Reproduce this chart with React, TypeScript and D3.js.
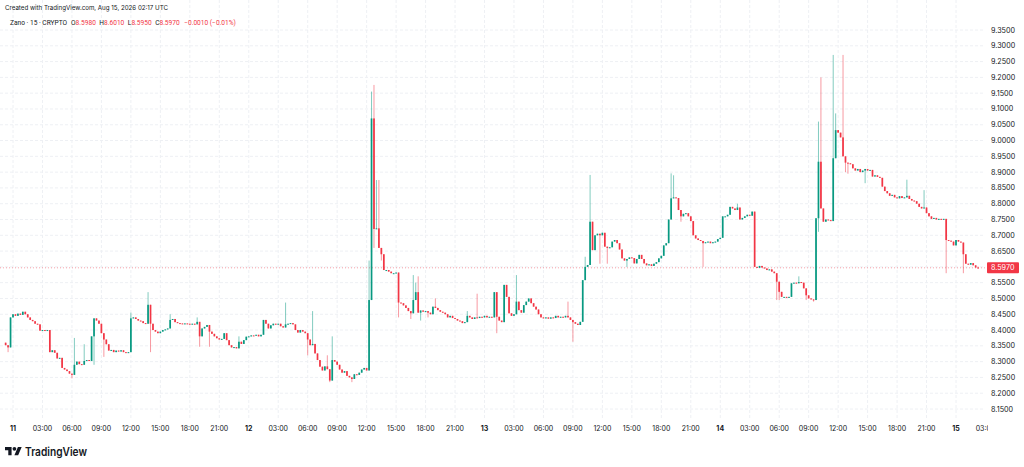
import * as d3 from 'd3';

// Zano / 15m candles, Aug 10 23:15 -> Aug 15 02:15 UTC
const W = 1024;
const H = 467;
const BAR_MS = 15 * 60 * 1000;
const DAY0 = Date.UTC(2026, 7, 11);
const BARS_BEFORE_DAY0 = 3;
const FIRST_OPEN = 8.36;

// closes, one per bar; open of each bar = previous close
const closes = [
  8.352, 8.345, 8.44,
  8.45, 8.445, 8.452, 8.448, 8.458, 8.45, 8.44, 8.432, 8.428, 8.42, 8.418, 8.398,
  8.40, 8.398, 8.40, 8.33, 8.336, 8.328, 8.31, 8.312, 8.28, 8.275, 8.27, 8.262,
  8.258, 8.29, 8.30, 8.292, 8.29, 8.302, 8.305, 8.302, 8.38, 8.437, 8.43, 8.42,
  8.39, 8.37, 8.355, 8.335, 8.337, 8.33, 8.335, 8.332, 8.336, 8.33, 8.328, 8.33,
  8.437, 8.44, 8.435, 8.43, 8.428, 8.422, 8.42, 8.48, 8.42, 8.40, 8.395, 8.39,
  8.395, 8.40, 8.402, 8.405, 8.432, 8.435, 8.425, 8.422, 8.421, 8.42, 8.421, 8.42,
  8.419, 8.42, 8.418, 8.426, 8.38, 8.405, 8.41, 8.416, 8.395, 8.388, 8.38, 8.374,
  8.37, 8.372, 8.39, 8.368, 8.352, 8.345, 8.346, 8.342, 8.363, 8.356, 8.368, 8.379,
  8.38, 8.383, 8.382, 8.385, 8.38, 8.385, 8.432, 8.42, 8.405, 8.415, 8.42, 8.418,
  8.42, 8.412, 8.408, 8.418, 8.42, 8.422, 8.418, 8.40, 8.392, 8.40, 8.395, 8.39,
  8.37, 8.352, 8.356, 8.326, 8.305, 8.284, 8.272, 8.285, 8.276, 8.24, 8.305, 8.30,
  8.29, 8.275, 8.265, 8.27, 8.255, 8.25, 8.245, 8.26, 8.258, 8.265, 8.275, 8.28,
  8.272, 8.495, 9.07, 8.72, 8.722, 8.66, 8.64, 8.59, 8.59, 8.585, 8.58, 8.58,
  8.582, 8.487, 8.485, 8.478, 8.47, 8.46, 8.453, 8.495, 8.52, 8.455, 8.462, 8.458,
  8.46, 8.455, 8.45, 8.474, 8.47, 8.463, 8.458, 8.455, 8.45, 8.44, 8.445, 8.438,
  8.435, 8.43, 8.428, 8.422, 8.425, 8.445, 8.44, 8.435, 8.44, 8.438, 8.442, 8.44,
  8.445, 8.44, 8.442, 8.44, 8.52, 8.442, 8.43, 8.425, 8.543, 8.505, 8.453, 8.445,
  8.45, 8.49, 8.463, 8.455, 8.479, 8.49, 8.50, 8.485, 8.474, 8.465, 8.45, 8.44,
  8.437, 8.44, 8.436, 8.44, 8.438, 8.445, 8.44, 8.442, 8.44, 8.445, 8.44, 8.432,
  8.425, 8.42, 8.416, 8.426, 8.558, 8.60, 8.606, 8.743, 8.653, 8.70, 8.705, 8.70,
  8.708, 8.664, 8.66, 8.662, 8.68, 8.685, 8.675, 8.655, 8.627, 8.62, 8.625, 8.63,
  8.628, 8.611, 8.625, 8.638, 8.625, 8.611, 8.605, 8.608, 8.603, 8.61, 8.615, 8.627,
  8.635, 8.668, 8.675, 8.75, 8.817, 8.82, 8.818, 8.78, 8.76, 8.768, 8.77, 8.76,
  8.745, 8.70, 8.69, 8.685, 8.682, 8.675, 8.678, 8.68, 8.675, 8.678, 8.68, 8.688,
  8.692, 8.76, 8.76, 8.765, 8.79, 8.785, 8.78, 8.788, 8.75, 8.755, 8.76, 8.765,
  8.762, 8.775, 8.60, 8.597, 8.603, 8.598, 8.595, 8.59, 8.592, 8.585, 8.58, 8.553,
  8.521, 8.505, 8.505, 8.502, 8.505, 8.548, 8.55, 8.548, 8.552, 8.55, 8.532, 8.51,
  8.50, 8.497, 8.495, 8.754, 8.933, 8.785, 8.743, 8.75, 8.748, 8.745, 8.944, 9.033,
  9.025, 9.01, 8.95, 8.93, 8.928, 8.925, 8.912, 8.905, 8.91, 8.90, 8.905, 8.91,
  8.905, 8.907, 8.886, 8.89, 8.885, 8.882, 8.854, 8.84, 8.833, 8.825, 8.828, 8.82,
  8.817, 8.824, 8.818, 8.82, 8.825, 8.815, 8.81, 8.808, 8.80, 8.79, 8.785, 8.788,
  8.77, 8.76, 8.752, 8.755, 8.75, 8.752, 8.75, 8.752, 8.685, 8.683, 8.68, 8.668,
  8.685, 8.68, 8.677, 8.64, 8.61, 8.607, 8.612, 8.605, 8.598, 8.597,
];

// [bar number counted from Aug 11 00:00, price] for the visible wicks
const wickHighs: [number, number][] = [
  [25, 8.375], [29, 8.355], [48, 8.455], [55, 8.52], [64, 8.45], [75, 8.44],
  [92, 8.38], [111, 8.487], [122, 8.46], [128, 8.32], [130, 8.38], [145, 8.62],
  [146, 9.155], [147, 9.176], [148, 8.875], [149, 8.875], [163, 8.574], [164, 8.55],
  [165, 8.57], [172, 8.50], [185, 8.46], [189, 8.515], [205, 8.574], [226, 8.49],
  [233, 8.632], [235, 8.891], [268, 8.896], [269, 8.89], [295, 8.80], [320, 8.57],
  [328, 9.06], [329, 9.20], [334, 9.271], [335, 9.086], [338, 9.271], [364, 8.876],
  [371, 8.843], [393, 8.601],
];
const wickLows: [number, number][] = [
  [-2, 8.33], [24, 8.247], [33, 8.29], [37, 8.315], [56, 8.33], [76, 8.347],
  [80, 8.347], [120, 8.32], [129, 8.235], [138, 8.235], [147, 8.66], [150, 8.62],
  [157, 8.44], [162, 8.435], [166, 8.43], [169, 8.44], [197, 8.39], [228, 8.363],
  [239, 8.61], [242, 8.61], [250, 8.60], [272, 8.743], [281, 8.60], [311, 8.495],
  [312, 8.495], [323, 8.495], [326, 8.49], [328, 8.711], [339, 8.90], [340, 8.895],
  [347, 8.865], [380, 8.58], [387, 8.58], [393, 8.595],
];

const priceTicks = [
  9.35, 9.3, 9.25, 9.2, 9.15, 9.1, 9.05, 9.0, 8.95, 8.9, 8.85, 8.8, 8.75,
  8.7, 8.65, 8.6, 8.55, 8.5, 8.45, 8.4, 8.35, 8.3, 8.25, 8.2, 8.15,
];
const LAST_PRICE = 8.597;
const LAST_LABEL = '8.5970';

const createdText = 'Created with TradingView.com, Aug 15, 2026 02:17 UTC';
const symbolText = 'Zano · 15 · CRYPTO';
const legendKeys = ['O', 'H', 'L', 'C'];
const legendValues = ['8.5980', '8.6010', '8.5950', '8.5970'];
const legendChange = '−0.0010 (−0.01%)';

const UP = '#089981';
const DOWN = '#F23645';
const TEXT = '#131722';
const GRID = '#eef0f4';
const FONT = "Inter, 'Noto Sans', sans-serif";
const LEGEND_FONT = 'Roboto';
const LEGEND_SIZE = 6.6;

const PLOT_RIGHT = 985;
const PLOT_BOTTOM = 418;

// width of a legend string, so the pieces can be laid out one after another
function measure(s: string) {
  const ctx = document.createElement('canvas').getContext('2d');
  if (!ctx) return s.length * 3.4;
  ctx.font = `${LEGEND_SIZE}px ${LEGEND_FONT}`;
  return ctx.measureText(s).width;
}

export default function App() {
  const x = d3
    .scaleUtc()
    .domain([new Date(DAY0), new Date(DAY0 + 4 * 24 * 3600 * 1000)])
    .range([13, 956]);
  const y = d3.scaleLinear().domain([8.15, 9.35]).range([409, 30]);

  const highMap = new Map(wickHighs);
  const lowMap = new Map(wickLows);

  const candles = closes.map((close, k) => {
    const i = k - BARS_BEFORE_DAY0;
    const open = k === 0 ? FIRST_OPEN : closes[k - 1];
    const high = Math.max(open, close, highMap.get(i) ?? 0);
    const low = Math.min(open, close, lowMap.get(i) ?? 99);
    return { t: new Date(DAY0 + i * BAR_MS), open, close, high, low };
  });

  const timeTicks = d3.utcHour
    .every(3)!
    .range(new Date(DAY0 - 3 * 3600 * 1000), new Date(DAY0 + (4 * 24 + 4) * 3600 * 1000));
  const fmtHour = d3.utcFormat('%H:%M');
  const fmtDay = d3.utcFormat('%-d');

  const bodyW = 1.7;
  const lastY = y(LAST_PRICE);

  // legend pieces, left to right
  const pieces: { x: number; key: string; value: string }[] = [];
  let cursor = 10 + measure(symbolText) + 4;
  legendKeys.forEach((k, j) => {
    pieces.push({ x: cursor, key: k, value: legendValues[j] });
    cursor += measure(k + legendValues[j]) + 3.5;
  });
  const changeX = cursor + 1;

  return (
    <div style={{ position: 'absolute', left: 0, top: 0, width: W, height: H, background: '#fff' }}>
      <svg width={W} height={H} style={{ display: 'block', fontFamily: FONT }}>
        <defs>
          <clipPath id="plot">
            <rect x={0} y={0} width={PLOT_RIGHT} height={PLOT_BOTTOM} />
          </clipPath>
          <clipPath id="timeaxis">
            <rect x={0} y={PLOT_BOTTOM} width={988} height={20} />
          </clipPath>
        </defs>
        <rect width={W} height={H} fill="#fff" />

        {/* grid */}
        <g clipPath="url(#plot)">
          {timeTicks.map((t) => (
            <line
              key={'v' + +t}
              x1={x(t)}
              x2={x(t)}
              y1={0}
              y2={PLOT_BOTTOM}
              stroke={GRID}
              strokeDasharray="3 2"
            />
          ))}
          {priceTicks.map((p) => (
            <line
              key={'h' + p}
              x1={0}
              x2={PLOT_RIGHT}
              y1={y(p)}
              y2={y(p)}
              stroke={GRID}
              strokeDasharray="3 2"
            />
          ))}
        </g>

        {/* last price line */}
        <line
          x1={0}
          x2={PLOT_RIGHT}
          y1={lastY}
          y2={lastY}
          stroke={DOWN}
          strokeOpacity={0.45}
          strokeDasharray="1 2"
        />

        {/* candles */}
        <g clipPath="url(#plot)">
          {candles.map((c) => {
            const cx = x(c.t);
            const color = c.close >= c.open ? UP : DOWN;
            const top = y(Math.max(c.open, c.close));
            const bot = y(Math.min(c.open, c.close));
            return (
              <g key={+c.t}>
                <line
                  x1={cx}
                  x2={cx}
                  y1={y(c.high)}
                  y2={y(c.low)}
                  stroke={color}
                  strokeOpacity={0.5}
                  strokeWidth={1}
                />
                <rect
                  x={cx - bodyW / 2}
                  y={top}
                  width={bodyW}
                  height={Math.max(1, bot - top)}
                  fill={color}
                />
              </g>
            );
          })}
        </g>

        {/* price axis */}
        {priceTicks
          .filter((p) => Math.abs(y(p) - lastY) > 9)
          .map((p) => (
            <text
              key={'pl' + p}
              x={991}
              y={y(p)}
              dy="0.35em"
              fontSize={7.2}
              fill={TEXT}
            >
              {p.toFixed(4)}
            </text>
          ))}
        <rect x={987} y={lastY - 5.5} width={32} height={11} rx={1} fill={DOWN} />
        <text x={991} y={lastY} dy="0.35em" fontSize={7.2} fill="#fff">
          {LAST_LABEL}
        </text>

        {/* time axis */}
        <g clipPath="url(#timeaxis)">
          {timeTicks
            .filter((t) => x(t) > 0)
            .map((t) => {
              const isDay = t.getUTCHours() === 0;
              return (
                <text
                  key={'tl' + +t}
                  x={x(t)}
                  y={430.5}
                  textAnchor="middle"
                  fontSize={7}
                  fontWeight={isDay ? 700 : 400}
                  fill={TEXT}
                >
                  {isDay ? fmtDay(t) : fmtHour(t)}
                </text>
              );
            })}
        </g>

        {/* header */}
        <text x={5} y={9.5} fontSize={6.8} fill={TEXT} textLength={163} lengthAdjust="spacingAndGlyphs">
          {createdText}
        </text>
        <g fontFamily={LEGEND_FONT} fontSize={LEGEND_SIZE}>
          <text x={10} y={25} fill={TEXT}>
            {symbolText}
          </text>
          {pieces.map((p) => (
            <text key={p.key} x={p.x} y={25}>
              <tspan fill={TEXT}>{p.key}</tspan>
              <tspan fill={DOWN}>{p.value}</tspan>
            </text>
          ))}
          <text x={changeX} y={25} fill={DOWN}>
            {legendChange}
          </text>
        </g>

        {/* logo */}
        <g transform="translate(5,445) scale(0.47)" fill={TEXT}>
          <path d="M14 22H7V11H0V4h14v18zM28 22h-8l7.5-18h8L28 22z" />
          <circle cx={20} cy={8} r={4} />
        </g>
        <text x={25} y={456} fontSize={11.5} fontWeight={600} fill={TEXT} textLength={62} lengthAdjust="spacingAndGlyphs">
          TradingView
        </text>
      </svg>
    </div>
  );
}
